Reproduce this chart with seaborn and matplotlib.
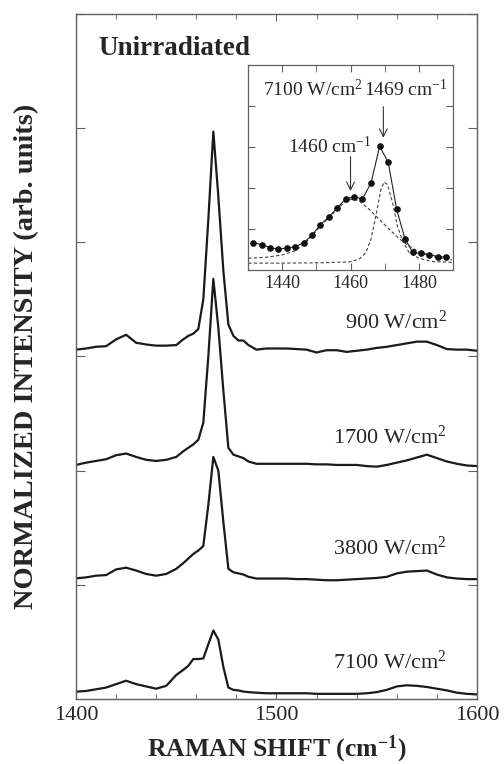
import numpy as np
import matplotlib
matplotlib.use('Agg')
import matplotlib.pyplot as plt
from matplotlib.ticker import MultipleLocator
import seaborn as sns

# Raman shift grid (cm-1) shared by the four spectra
shift = [1400, 1405, 1410, 1415, 1420, 1425, 1430, 1435, 1440, 1445, 1450,
         1453.5, 1456, 1458.5, 1461, 1463.5, 1466, 1468.5, 1471, 1473.5,
         1476, 1478.5, 1481, 1483.5, 1486,
         1490, 1495, 1500, 1505, 1510, 1515, 1520, 1525, 1530, 1535, 1540,
         1545, 1550, 1555, 1560, 1565, 1570, 1575, 1580, 1585, 1590, 1595, 1600]

# normalized intensities (already offset as in the figure)
i_900 = [3.06, 3.07, 3.085, 3.09, 3.15, 3.19, 3.12, 3.105, 3.095, 3.095, 3.10,
         3.15, 3.18, 3.20, 3.24, 3.50, 4.20, 4.97, 4.40, 3.75,
         3.28, 3.18, 3.14, 3.14, 3.10,
         3.06, 3.07, 3.07, 3.07, 3.065, 3.06, 3.035, 3.055, 3.055, 3.04, 3.05,
         3.06, 3.075, 3.085, 3.10, 3.115, 3.13, 3.13, 3.10, 3.065, 3.06, 3.06, 3.05]
i_1700 = [2.05, 2.07, 2.085, 2.10, 2.135, 2.15, 2.12, 2.095, 2.085, 2.095, 2.12,
          2.17, 2.20, 2.23, 2.27, 2.42, 3.00, 3.68, 3.25, 2.70,
          2.20, 2.14, 2.125, 2.11, 2.08,
          2.06, 2.06, 2.06, 2.06, 2.06, 2.06, 2.055, 2.055, 2.05, 2.05, 2.05,
          2.04, 2.035, 2.05, 2.07, 2.09, 2.115, 2.14, 2.11, 2.08, 2.06, 2.045, 2.04]
i_3800 = [1.057, 1.065, 1.08, 1.085, 1.135, 1.15, 1.125, 1.095, 1.08, 1.095, 1.14,
          1.19, 1.23, 1.27, 1.30, 1.34, 1.70, 2.12, 2.00, 1.55,
          1.14, 1.11, 1.10, 1.09, 1.07,
          1.055, 1.055, 1.055, 1.055, 1.05, 1.05, 1.045, 1.04, 1.04, 1.045, 1.05,
          1.055, 1.06, 1.07, 1.10, 1.115, 1.12, 1.125, 1.09, 1.065, 1.055, 1.05, 1.05]
i_7100 = [0.064, 0.07, 0.085, 0.10, 0.13, 0.16, 0.13, 0.11, 0.09, 0.115, 0.21,
          0.255, 0.29, 0.35, 0.35, 0.355, 0.48, 0.60, 0.52, 0.28,
          0.10, 0.08, 0.075, 0.065, 0.06,
          0.055, 0.05, 0.05, 0.05, 0.05, 0.05, 0.045, 0.045, 0.045, 0.045, 0.045,
          0.05, 0.06, 0.08, 0.11, 0.12, 0.115, 0.105, 0.09, 0.075, 0.055, 0.045, 0.04]

labels = ['900 W/cm$^2$', '1700 W/cm$^2$', '3800 W/cm$^2$', '7100 W/cm$^2$']
label_y = [3.30, 2.29, 1.32, 0.32]

# inset: 7100 W/cm2 measured points and two-band fit
ins_x = [1431.6, 1434.1, 1436.4, 1438.9, 1441.4, 1443.9, 1446.3, 1448.7,
         1451.1, 1453.6, 1456.1, 1458.6, 1461.0, 1463.5, 1466.0, 1468.5,
         1471.0, 1473.5, 1475.9, 1478.2, 1480.5, 1483.0, 1485.5, 1487.9]
ins_y = [0.66, 0.61, 0.54, 0.50, 0.53, 0.56, 0.66, 0.84,
         1.09, 1.28, 1.51, 1.73, 1.78, 1.73, 2.12, 3.01,
         2.63, 1.47, 0.76, 0.42, 0.40, 0.37, 0.32, 0.31]
broad_x = [1430.1, 1435, 1440, 1443.7, 1446.4, 1448.8, 1451.2, 1453.7, 1456.2,
           1458.7, 1460.6, 1462.6, 1465.5, 1468.4, 1471.3, 1474.2, 1477.1,
           1480, 1483.9, 1489.7]
broad_y = [0.28, 0.30, 0.36, 0.46, 0.62, 0.83, 1.07, 1.27, 1.49,
           1.68, 1.73, 1.68, 1.47, 1.23, 0.99, 0.76, 0.58,
           0.44, 0.32, 0.24]
narrow_x = [1430.1, 1440, 1451.9, 1459.7, 1462.6, 1464.5, 1466, 1467.4, 1468.9,
            1469.8, 1470.8, 1472.3, 1473.7, 1475.2, 1477.1, 1480, 1483.9, 1489.7]
narrow_y = [0.16, 0.16, 0.17, 0.19, 0.26, 0.42, 0.75, 1.31, 1.96,
            2.14, 2.08, 1.64, 1.07, 0.71, 0.42, 0.28, 0.20, 0.18]

sns.set_style('ticks')
plt.rcParams['font.family'] = ['Liberation Serif', 'DejaVu Serif']
plt.rcParams['mathtext.fontset'] = 'custom'
plt.rcParams['mathtext.rm'] = 'Liberation Serif'
plt.rcParams['mathtext.bf'] = 'Liberation Serif:bold'
plt.rcParams['mathtext.it'] = 'Liberation Serif:italic'

frame = '#606060'
fig = plt.figure(figsize=(5.04, 7.64), dpi=100)
ax = fig.add_axes([0.1508, 0.0851, 0.7956, 0.8966])

for vals in [i_900, i_1700, i_3800, i_7100]:
    sns.lineplot(x=shift, y=vals, ax=ax, color='#1a1a1a', lw=1.6, sort=False)

for lab, yy in zip(labels, label_y):
    ax.text(1585, yy, lab, ha='right', va='center', fontsize=16)

ax.text(0.055, 0.950, 'Unirradiated', transform=ax.transAxes, fontsize=19.5,
        fontweight='bold', ha='left', va='center')

ax.set_xlim(1400, 1600)
ax.set_ylim(0, 6)
ax.set_xticks([1400, 1500, 1600])
ax.xaxis.set_minor_locator(MultipleLocator(20))
ax.set_yticks(range(7))
ax.set_yticklabels([])
ax.tick_params(axis='x', which='major', direction='in', top=True, length=5,
               labelsize=16, color=frame, pad=5)
ax.tick_params(axis='x', which='minor', direction='in', top=True, length=3.5,
               color=frame)
ax.tick_params(axis='y', direction='in', right=True, length=6.5, color=frame)
for s in ax.spines.values():
    s.set_color(frame)
    s.set_linewidth(1.0)
ax.set_xlabel(r'RAMAN SHIFT (cm$^{\mathbf{-1}}$)', fontsize=18.5,
              fontweight='bold', labelpad=6)
ax.set_ylabel('NORMALIZED INTENSITY (arb. units)', fontsize=20.5,
              fontweight='bold', labelpad=23)

# inset
ins = fig.add_axes([0.492, 0.647, 0.407, 0.268])
sns.lineplot(x=broad_x, y=broad_y, ax=ins, color='#444444', lw=0.8,
             linestyle=(0, (3, 2)), sort=False)
sns.lineplot(x=narrow_x, y=narrow_y, ax=ins, color='#444444', lw=0.8,
             linestyle=(0, (3, 2)), sort=False)
sns.lineplot(x=ins_x, y=ins_y, ax=ins, color='#222222', lw=0.8, sort=False,
             marker='o', markersize=4, markeredgecolor='#111111',
             markerfacecolor='#111111')
ins.set_xlim(1430, 1490)
ins.set_ylim(0, 5)
ins.set_xticks([1440, 1460, 1480])
ins.xaxis.set_minor_locator(MultipleLocator(10))
ins.set_yticks([1, 2, 3, 4])
ins.set_yticklabels([])
ins.tick_params(axis='x', which='both', direction='in', top=True, length=5,
                labelsize=13, color=frame, pad=4)
ins.tick_params(axis='y', direction='in', right=True, length=5, color=frame)
for s in ins.spines.values():
    s.set_color(frame)
    s.set_linewidth(0.9)

ins.text(1449, 4.39, '7100 W/cm$^2$', ha='center', va='center', fontsize=14)
ins.text(1476.2, 4.39, '1469 cm$^{-1}$', ha='center', va='center', fontsize=14)
ins.text(1454, 3.0, '1460 cm$^{-1}$', ha='center', va='center', fontsize=14)
arrow = dict(arrowstyle='->', color='#333333', lw=0.8,
             shrinkA=0, shrinkB=0, mutation_scale=14)
ins.annotate('', xy=(1469.6, 3.22), xytext=(1469.6, 3.98), arrowprops=arrow)
ins.annotate('', xy=(1460, 1.92), xytext=(1460, 2.76), arrowprops=arrow)

fig.savefig('out.png', dpi=100)
